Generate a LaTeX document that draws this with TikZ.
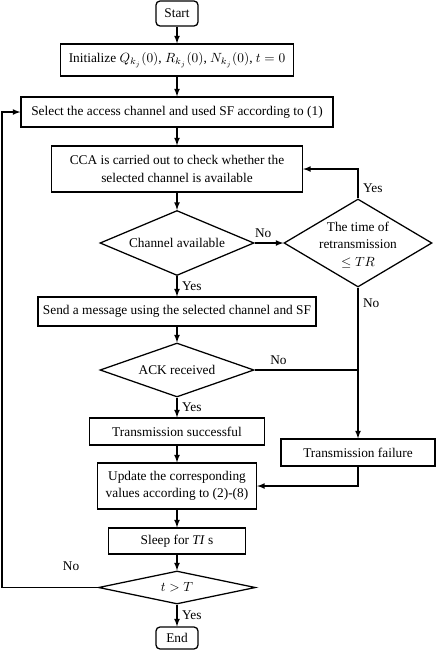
\documentclass[tikz,border=0pt]{standalone}
\usepackage{amsmath,amssymb}
\usepackage{fontspec}
\setmainfont{Liberation Serif}
\usetikzlibrary{shapes.geometric}

\begin{document}
\begin{tikzpicture}[x=0.75pt, y=-0.75pt, line width=0.95pt,
        font=\fontsize{10}{13}\selectfont,
        box/.style={draw, align=center, inner sep=2pt},
        term/.style={draw, rounded corners=3pt, inner sep=2pt},
        decision/.style={draw, diamond, inner sep=0pt, align=center},
        arrow/.style={-latex}]
        \useasboundingbox (0,0) rectangle (436,654);

        \node[term, minimum width=31.5pt, minimum height=18.75pt] (start) at (177,13.5) {Start};
        \node[box, minimum width=174.75pt, minimum height=24pt] (init) at (177,60)
            {Initialize $Q_{k_j}(0)$, $R_{k_j}(0)$, $N_{k_j}(0)$, $t=0$};
        \node[box, minimum width=234pt, minimum height=22.5pt] (select) at (177,112)
            {Select the access channel and used SF according to (1)};
        \node[box, minimum width=188.25pt, minimum height=34.5pt] (cca) at (177,169)
            {CCA is carried out to check whether the\\selected channel is available};
        \node[decision, shape aspect=2.37, minimum width=115.5pt, minimum height=48.75pt] (chan) at (177,243)
            {Channel available};
        \node[decision, minimum width=111pt, minimum height=66pt] (retx) at (358,243) {};
        \node[align=center] (retxtext) at (358,245) {The time of\\retransmission\\$\leq TR$};
        \node[box, minimum width=208.5pt, minimum height=21.75pt] (send) at (177,311.5)
            {Send a message using the selected channel and SF};
        \node[decision, shape aspect=2.85, minimum width=115.5pt, minimum height=40.5pt] (ack) at (177,370)
            {ACK received};
        \node[box, minimum width=131.25pt, minimum height=20.25pt] (succ) at (177,431.5) {Transmission successful};
        \node[box, minimum width=115.5pt, minimum height=20.25pt] (fail) at (358,452.5) {Transmission failure};
        \node[box, minimum width=119.25pt, minimum height=34.5pt] (update) at (177,486)
            {Update the corresponding\\values according to (2)-(8)};
        \node[box, minimum width=102.75pt, minimum height=19.5pt] (sleep) at (177,541) {Sleep for \textit{TI} s};
        \node[decision, shape aspect=4.76, minimum width=117.75pt, minimum height=24.75pt] (tT) at (177,587.5)
            {$t>T$};
        \node[term, minimum width=31.5pt, minimum height=16.5pt] (finish) at (177,638) {End};
        \coordinate (back) at (2,0);

        \draw[arrow] (start) -- (init);
        \draw[arrow] (init) -- (select);
        \draw[arrow] (select) -- (cca);
        \draw[arrow] (cca) -- (chan);
        \draw[arrow] (chan) -- node[right]{Yes} (send);
        \draw[arrow] (send) -- (ack);
        \draw[arrow] (ack) -- node[right]{Yes} (succ);
        \draw[arrow] (succ) -- (update);
        \draw[arrow] (update) -- (sleep);
        \draw[arrow] (sleep) -- (tT);
        \draw[arrow] (tT) -- node[right]{Yes} (finish);
        \draw[arrow] (chan) -- node[pos=0.3, above]{No} (retx);
        \draw[arrow] (retx.north) |- node[pos=0.17, right]{Yes} (cca.east);
        \draw[arrow] (retx) -- node[pos=0.1, right]{No} (fail);
        \draw (ack) -- node[pos=0.23, above]{No} (ack -| retx);
        \draw[arrow] (fail) |- (update);
        \draw[arrow] (tT.west) -- node[pos=0.28, above=9pt]{No} (tT.west -| back) |- (select.west);
    \end{tikzpicture}
\end{document}
